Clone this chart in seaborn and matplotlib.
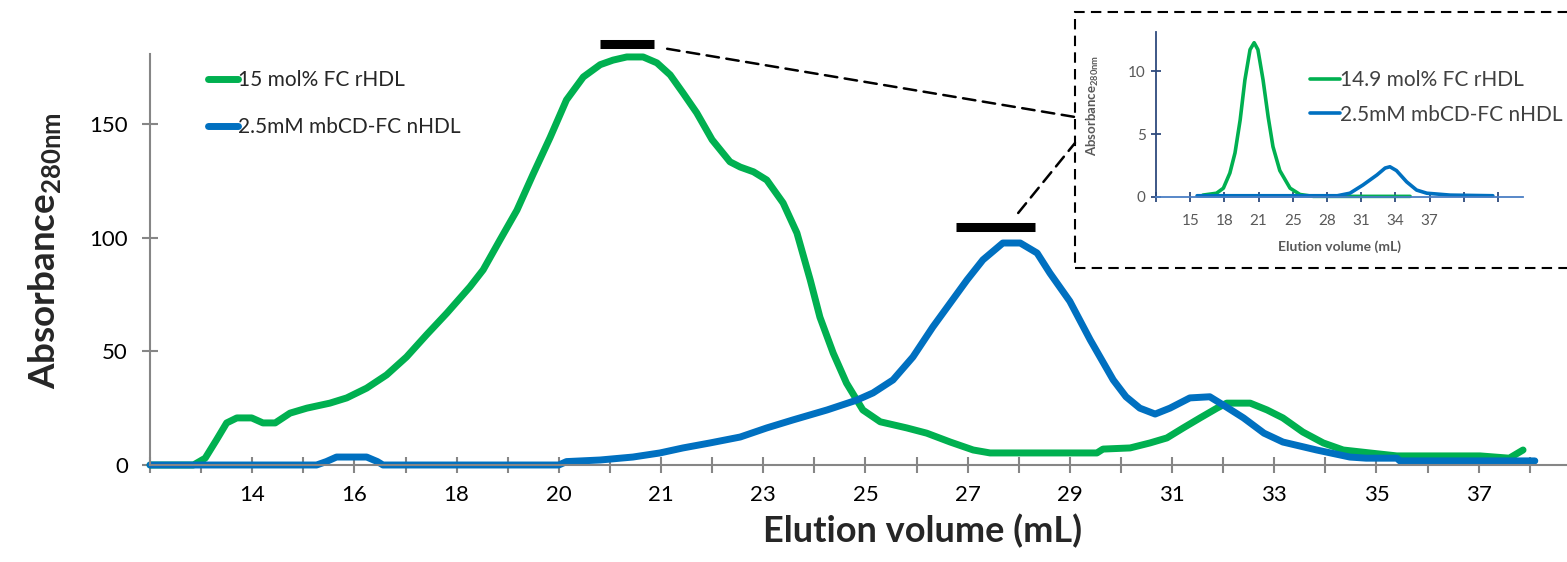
import seaborn as sns
import matplotlib.pyplot as plt
from matplotlib.patches import Rectangle, ConnectionPatch

# main chromatogram: x is the category position on the Excel axis (one tick = 1)
green_x = [0, 0.85, 1.08, 1.3, 1.5, 1.7, 1.99, 2.21, 2.45, 2.74, 3.07, 3.52, 3.85, 4.24, 4.63,
           5.02, 5.41, 5.81, 6.26, 6.52, 6.85, 7.18, 7.5, 7.83, 8.15, 8.48, 8.81, 9.06, 9.33,
           9.65, 9.92, 10.18, 10.43, 10.7, 11.0, 11.35, 11.55, 11.81, 12.07, 12.39, 12.66,
           12.92, 13.11, 13.37, 13.63, 13.95, 14.29, 14.81, 15.2, 15.66, 16.11, 16.44, 17.61,
           18.53, 18.65, 19.18, 19.57, 19.9, 20.22, 20.55, 20.88, 21.07, 21.53, 21.86, 22.17,
           22.56, 22.96, 23.35, 23.87, 24.4, 26.03, 26.6, 26.87]
green_y = [0, 0, 3, 11, 18.5, 20.7, 20.7, 18.5, 18.5, 22.8, 25, 27.2, 29.5, 33.8, 39.6,
           47.5, 57.2, 66.8, 78.3, 85.8, 99, 112, 128, 144, 160.5, 170.6, 176, 178, 179.4,
           179.4, 176.8, 171.5, 163.6, 154.8, 143, 133.3, 131, 128.9, 125.3, 115.2, 102,
           81.4, 65, 49.2, 36, 24.2, 19, 16.3, 14, 10.1, 6.6, 5.3, 5.3,
           5.3, 7, 7.5, 9.7, 11.9, 16.3, 20.7, 25, 27.2, 27.2, 24.2, 20.7,
           14.5, 9.7, 6.6, 5.3, 4, 4, 3, 6.6]

blue_x = [0, 3.26, 3.45, 3.65, 4.24, 4.45, 4.56, 8.0, 8.15, 8.81, 9.45, 9.98, 10.43, 10.96,
          11.55, 12.07, 12.58, 13.25, 13.84, 14.15, 14.54, 14.93, 15.32, 15.66, 15.99, 16.3,
          16.69, 17.03, 17.36, 17.61, 18.0, 18.4, 18.85, 19.1, 19.37, 19.67, 19.96, 20.35,
          20.74, 21.0, 21.4, 21.8, 22.17, 22.83, 23.48, 23.8, 24.4, 24.46, 27.1]
blue_y = [0, 0, 1.5, 3.5, 3.5, 1.5, 0, 0, 1.5, 2.2, 3.5, 5.3, 7.5, 9.7,
          12.3, 16.3, 19.8, 24.2, 28.6, 31.7, 37.4, 47.5, 60.7, 71.2, 81.4, 90.2,
          97.6, 97.6, 93.2, 84.4, 72, 55, 37.4, 30, 25, 22.4, 25, 29.5,
          30, 26.4, 20.7, 14, 10.1, 6.6, 3.5, 3, 3, 1.8, 1.8]

main_tick_pos = [2, 4, 6, 8, 10, 12, 14, 16, 18, 20, 22, 24, 26]
main_tick_labels = ["14", "16", "18", "20", "21", "23", "25", "27", "29", "31", "33", "35", "37"]

# collected fractions (start, end, height)
fraction_bars = [(8.81, 9.87, 184.9), (15.77, 17.32, 104.5)]

# inset chromatogram
in_green_x = [1.37, 1.77, 1.97, 2.16, 2.31, 2.46, 2.6, 2.75, 2.87, 2.98, 3.13, 3.28, 3.42,
              3.62, 3.92, 4.21, 4.6, 7.43]
in_green_y = [0.15, 0.3, 0.7, 1.9, 3.5, 6.1, 9.3, 11.7, 12.25, 11.7, 9.3, 6.35, 4.0,
              2.1, 0.7, 0.2, 0.05, 0.05]
in_blue_x = [1.2, 5.3, 5.67, 6.05, 6.46, 6.7, 6.84, 7.03, 7.33, 7.62, 7.92, 8.6, 9.85]
in_blue_y = [0.1, 0.1, 0.3, 0.95, 1.75, 2.3, 2.4, 2.1, 1.2, 0.55, 0.3, 0.15, 0.1]
in_tick_pos = [1, 2, 3, 4, 5, 6, 7, 8]
in_tick_labels = ["15", "18", "21", "25", "28", "31", "34", "37"]

GREEN = "#00B050"
BLUE = "#0070C0"
GREY = "#868686"

sns.set_style("white")
plt.rcParams["font.family"] = ["Lato", "DejaVu Sans"]
plt.rcParams["mathtext.fontset"] = "custom"
plt.rcParams["mathtext.rm"] = "Lato"
plt.rcParams["mathtext.bf"] = "Lato:bold"

W, H = 1567, 562
fig = plt.figure(figsize=(W / 100, H / 100), dpi=100)

# ---- main axes
ax = fig.add_axes([150 / W, 1 - 465 / H, (W - 150) / W, (465 - 54) / H])
sns.lineplot(x=green_x, y=green_y, ax=ax, color=GREEN, linewidth=5, label="15 mol% FC rHDL",
             sort=False, clip_on=False)
sns.lineplot(x=blue_x, y=blue_y, ax=ax, color=BLUE, linewidth=5, label="2.5mM mbCD-FC nHDL",
             sort=False, clip_on=False)
ax.set_xlim(0, (W - 150) / 51.1)
ax.set_ylim(0, 180.7)
ax.set_xticks(range(0, 28))
ax.set_xticklabels([main_tick_labels[main_tick_pos.index(k)] if k in main_tick_pos else ""
                    for k in range(0, 28)])
ax.set_yticks([0, 50, 100, 150])
for side in ["top", "right"]:
    ax.spines[side].set_visible(False)
for side in ["left", "bottom"]:
    ax.spines[side].set_color(GREY)
    ax.spines[side].set_linewidth(1.5)
ax.tick_params(bottom=True, left=True, direction="inout", length=12, width=1.5, color=GREY,
               labelsize=16, labelcolor="black")
ax.tick_params(axis="x", pad=8.5)
ax.tick_params(axis="y", pad=10)
ax.set_xlabel("Elution volume (mL)", fontsize=26, fontweight="bold")
ax.xaxis.set_label_coords((923 - 150) / (W - 150), (465 - 514) / 411)
ax.set_ylabel("Absorbance$_{\\mathbf{280nm}}$", fontsize=26.5, fontweight="bold")
ax.yaxis.set_label_coords((64 - 150) / (W - 150), (465 - 251) / 411)

ax.legend(loc="upper left", bbox_to_anchor=(208 / W, 1 - 70 / H), bbox_transform=fig.transFigure,
          frameon=False, fontsize=15, handlelength=1.45, handletextpad=0.0, labelspacing=1.3,
          borderpad=0, borderaxespad=0)

for x0, x1, yb in fraction_bars:
    ax.plot([x0, x1], [yb, yb], color="black", linewidth=6.5, solid_capstyle="butt", clip_on=False)

# ---- inset box and axes
box = Rectangle((1075 / W, 1 - 268 / H), (1620 - 1075) / W, (268 - 12) / H,
                transform=fig.transFigure, fill=False, edgecolor="black", linewidth=1.5,
                linestyle=(0, (5, 3)), clip_on=False)
fig.patches.append(box)

for (xa, ya), yf in [((10.12, 183), 117), ((16.99, 110.8), 143)]:
    con = ConnectionPatch(xyA=(xa, ya), coordsA=ax.transData,
                          xyB=(1075 / W, 1 - yf / H), coordsB=fig.transFigure,
                          color="black", linewidth=1.8, linestyle=(0, (5, 3)))
    fig.add_artist(con)

ax_in = fig.add_axes([1156 / W, 1 - 197 / H, (1523 - 1156) / W, (197 - 32) / H])
ax_in.patch.set_alpha(0)
sns.lineplot(x=in_green_x, y=in_green_y, ax=ax_in, color=GREEN, linewidth=2.6,
             label="14.9 mol% FC rHDL", sort=False, clip_on=False)
sns.lineplot(x=in_blue_x, y=in_blue_y, ax=ax_in, color=BLUE, linewidth=2.6,
             label="2.5mM mbCD-FC nHDL", sort=False, clip_on=False)
ax_in.set_xlim(0, (1523 - 1156) / 34.2)
ax_in.set_ylim(0, 13.1)
ax_in.set_xticks(range(0, 11))
ax_in.set_xticklabels([in_tick_labels[in_tick_pos.index(k)] if k in in_tick_pos else ""
                       for k in range(0, 11)])
ax_in.set_yticks([0, 5, 10])
for side in ["top", "right"]:
    ax_in.spines[side].set_visible(False)
ax_in.spines["left"].set_color("#2E4A7D")
ax_in.spines["bottom"].set_color("#4A7EC4")
ax_in.spines["left"].set_linewidth(1.3)
ax_in.spines["bottom"].set_linewidth(1.3)
ax_in.tick_params(bottom=True, left=True, direction="inout", length=7, width=1.3,
                  color="#2E4A7D", labelsize=11, labelcolor="#595959", pad=4)
ax_in.tick_params(axis="x", pad=9)
ax_in.set_xlabel("Elution volume (mL)", fontsize=10, fontweight="bold", color="#595959")
ax_in.xaxis.set_label_coords((1339 - 1156) / (1523 - 1156), (197 - 240) / 165)
ax_in.set_ylabel("Absorbance$_{\\mathbf{280nm}}$", fontsize=9.5, fontweight="bold",
                 color="#595959")
ax_in.yaxis.set_label_coords((1101 - 1156) / (1523 - 1156), (197 - 105) / 165)
ax_in.legend(loc="upper left", bbox_to_anchor=(1310 / W, 1 - 70 / H), bbox_transform=fig.transFigure,
             frameon=False, fontsize=15, handlelength=1.45, handletextpad=0.0, labelspacing=0.7,
             borderpad=0, borderaxespad=0, labelcolor="#404040")

fig.savefig("out.png", dpi=100)
